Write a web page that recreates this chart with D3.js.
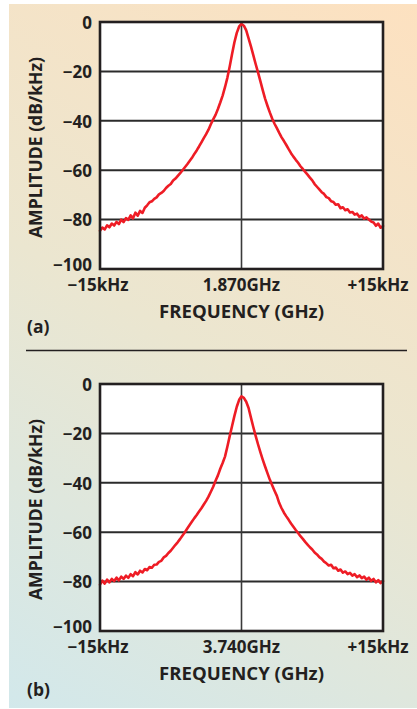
<!DOCTYPE html>
<html>
<head>
<meta charset="utf-8">
<script src="https://cdn.jsdelivr.net/npm/d3@7"></script>
<style>
  html, body { margin: 0; padding: 0; background: #fff; }
  svg { display: block; }
  text { font-family: "Open Sans", "Noto Sans", sans-serif; font-weight: 700; fill: #231f20; }
</style>
</head>
<body>
<svg id="fig" width="417" height="709"></svg>
<script>
// Frequency offsets (kHz) relative to the carrier, one sample every 0.25 kHz
const offsetsKHz = d3.range(-60, 61).map(i => i / 4);

// Measured spectrum, panel (a): carrier at 1.870 GHz (dB/kHz)
const spectrumA = [
  -84.5, -83.2, -84.0, -82.3, -83.1, -81.6, -82.4, -80.9, -81.8, -80.0,
  -81.0, -79.4, -80.1, -78.3, -79.5, -77.2, -78.4, -76.5, -77.3, -75.2,
  -74.2, -73.0, -72.6, -71.6, -71.0, -69.8, -69.2, -68.4, -67.2, -66.3,
  -65.6, -64.2, -63.4, -62.3, -61.2, -60.0, -58.8, -57.6, -56.3, -55.0,
  -53.4, -52.0, -50.4, -48.7, -47.0, -45.4, -43.6, -41.4, -39.4, -37.6,
  -35.2, -32.6, -29.8, -26.4, -22.6, -18.0, -13.0, -8.2, -4.4, -1.8,
  -0.8,
  -1.5, -3.4, -6.6, -9.9, -13.4, -17.0, -20.4, -23.9, -27.6, -31.0,
  -33.9, -36.6, -39.1, -41.2, -43.0, -44.9, -46.7, -48.2, -49.8, -51.5,
  -53.1, -54.5, -55.8, -57.0, -58.4, -59.5, -60.7, -61.8, -63.0, -64.1,
  -65.6, -66.7, -67.8, -68.9, -69.6, -70.9, -71.3, -72.6, -72.9, -74.0,
  -73.8, -75.4, -75.0, -76.2, -75.8, -77.1, -76.9, -78.0, -77.6, -78.9,
  -78.3, -79.6, -79.1, -80.0, -80.8, -81.2, -82.5, -81.6, -83.3, -82.6
];

// Measured spectrum, panel (b): doubled carrier at 3.740 GHz (dB/kHz)
const spectrumB = [
  -81.2, -79.6, -80.8, -79.2, -80.3, -78.9, -79.8, -78.4, -79.5, -78.0,
  -78.9, -77.6, -78.5, -77.0, -77.8, -76.2, -77.1, -75.6, -76.3, -74.9,
  -75.4, -74.1, -74.4, -73.2, -73.1, -72.0, -71.6, -70.2, -69.6, -68.4,
  -67.5, -66.3, -65.1, -64.0, -62.7, -61.3, -60.0, -58.5, -57.1, -55.7,
  -54.3, -53.0, -51.6, -50.3, -48.8, -47.3, -45.6, -43.6, -41.6, -39.2,
  -37.0, -34.3, -32.0, -29.4, -25.4, -21.1, -17.0, -12.9, -9.2, -6.4,
  -5.0,
  -5.6, -7.2, -9.7, -13.6, -17.4, -21.0, -24.4, -27.6, -30.6, -33.4,
  -36.1, -38.7, -41.0, -43.2, -45.3, -48.2, -50.3, -52.1, -53.6, -55.0,
  -56.5, -57.8, -59.1, -60.3, -61.6, -62.7, -63.9, -65.0, -66.1, -67.0,
  -68.2, -69.0, -70.1, -70.8, -71.9, -72.6, -73.5, -73.2, -74.6, -74.3,
  -75.6, -75.1, -76.4, -75.9, -77.0, -76.5, -77.6, -77.0, -78.2, -77.5,
  -78.6, -78.0, -79.2, -78.4, -79.7, -78.9, -80.3, -79.4, -80.6, -79.8
];

// Axis ticks
const yTicks = [0, -20, -40, -60, -80, -100];
const yTickLabels = ["0", "\u221220", "\u221240", "\u221260", "\u221280", "\u2212100"];
const xTicks = [-15, 0, 15];
const xTickLabelsA = ["\u221215kHz", "1.870GHz", "+15kHz"];
const xTickLabelsB = ["\u221215kHz", "3.740GHz", "+15kHz"];
const xTitle = "FREQUENCY (GHz)";
const yTitle = "AMPLITUDE (dB/kHz)";

const svg = d3.select("#fig");

// Background panel with a soft diagonal wash
const defs = svg.append("defs");
const grad = defs.append("linearGradient")
  .attr("id", "wash").attr("gradientUnits", "userSpaceOnUse")
  .attr("x1", 9).attr("y1", 709).attr("x2", 417).attr("y2", 4);
grad.append("stop").attr("offset", 0).attr("stop-color", "#d2e8eb");
grad.append("stop").attr("offset", 0.5).attr("stop-color", "#ebe6d0");
grad.append("stop").attr("offset", 1).attr("stop-color", "#fde1c0");

svg.append("rect").attr("x", 9).attr("y", 4).attr("width", 408).attr("height", 704)
  .attr("fill", "url(#wash)");

// Divider between the two panels
svg.append("line").attr("x1", 26).attr("x2", 407).attr("y1", 350.5).attr("y2", 350.5)
  .attr("stroke", "#231f20").attr("stroke-width", 1.4);

const plotLeft = 100, plotRight = 383;
const x = d3.scaleLinear().domain([-15, 15]).range([plotLeft, plotRight]);

function panel(top, bottom, values, xLabels, tag, tagY) {
  const y = d3.scaleLinear().domain([-100, 0]).range([bottom, top]);
  const g = svg.append("g");

  g.append("rect").attr("x", plotLeft).attr("y", top)
    .attr("width", plotRight - plotLeft).attr("height", bottom - top).attr("fill", "#fff");

  // Horizontal grid
  g.append("g").selectAll("line").data(yTicks.filter(v => v > -100 && v < 0)).join("line")
    .attr("x1", plotLeft).attr("x2", plotRight)
    .attr("y1", d => y(d)).attr("y2", d => y(d))
    .attr("stroke", "#2b2b2b").attr("stroke-width", 2);

  // Carrier marker
  g.append("line").attr("x1", x(0)).attr("x2", x(0)).attr("y1", top).attr("y2", bottom)
    .attr("stroke", "#3a3a3a").attr("stroke-width", 1.6);

  // Spectrum trace
  const line = d3.line().x((d, i) => x(offsetsKHz[i])).y(d => y(d));
  g.append("path").datum(values).attr("d", line)
    .attr("fill", "none").attr("stroke", "#ee1c25").attr("stroke-width", 2.6)
    .attr("stroke-linejoin", "round").attr("stroke-linecap", "round");

  // Frame
  g.append("rect").attr("x", plotLeft).attr("y", top)
    .attr("width", plotRight - plotLeft).attr("height", bottom - top)
    .attr("fill", "none").attr("stroke", "#231f20").attr("stroke-width", 2.6);

  // Y tick labels (the bottom one sits a little above its gridline)
  g.append("g").selectAll("text").data(yTicks).join("text")
    .attr("x", 92).attr("y", d => y(d) - (d === -100 ? 4 : -1)).attr("dy", "0.34em")
    .attr("text-anchor", "end").attr("font-size", 17)
    .text((d, i) => yTickLabels[i]);

  // X tick labels
  g.append("g").selectAll("text").data(xTicks).join("text")
    .attr("x", d => x(d)).attr("y", bottom + 22)
    .attr("dx", d => d === 15 ? -5 : (d === -15 ? -2 : 0))
    .attr("text-anchor", "middle").attr("font-size", 17)
    .text((d, i) => xLabels[i]);

  // Axis titles
  g.append("text").attr("x", x(0)).attr("y", bottom + 49)
    .attr("text-anchor", "middle").attr("font-size", 17)
    .attr("textLength", 165).attr("lengthAdjust", "spacingAndGlyphs")
    .text(xTitle);

  g.append("text")
    .attr("transform", `translate(42,${(top + bottom) / 2 + 2}) rotate(-90)`)
    .attr("text-anchor", "middle").attr("font-size", 17)
    .attr("textLength", 181).attr("lengthAdjust", "spacingAndGlyphs")
    .text(yTitle);

  // Panel tag
  g.append("text").attr("x", 27).attr("y", tagY).attr("font-size", 17.5).text(tag);
}

panel(22, 269, spectrumA, xTickLabelsA, "(a)", 333);
panel(384, 631, spectrumB, xTickLabelsB, "(b)", 696);
</script>
</body>
</html>
